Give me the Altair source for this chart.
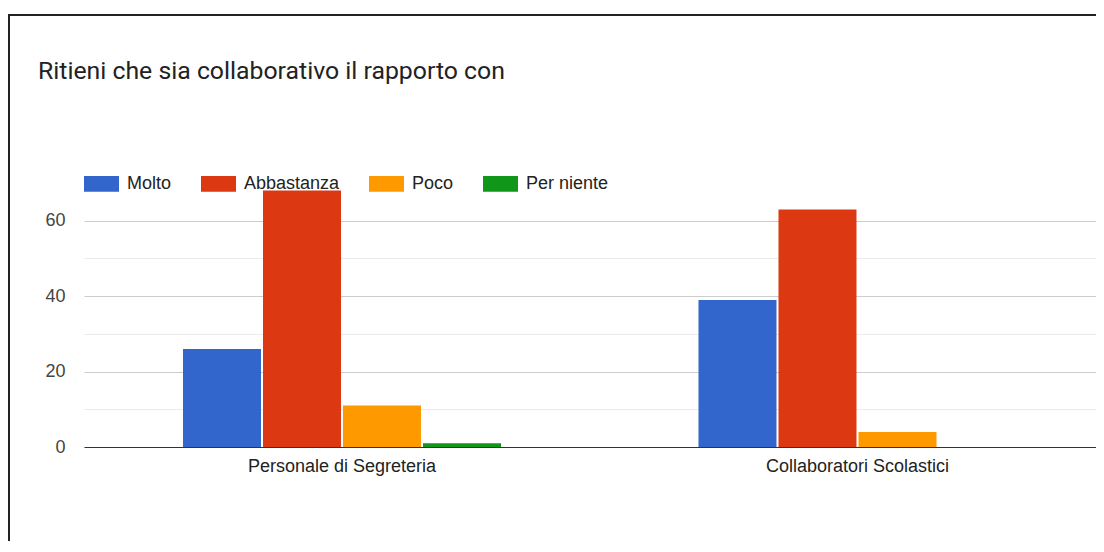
import altair as alt
import pandas as pd

# ---- data ----
categories = ["Personale di Segreteria", "Collaboratori Scolastici"]
series = ["Molto", "Abbastanza", "Poco", "Per niente"]
molto = [26, 39]
abbastanza = [68, 63]
poco = [11, 4]
per_niente = [1, 0]
colors = ["#3366cc", "#dc3912", "#ff9900", "#109618"]
title_text = "Ritieni che sia collaborativo il rapporto con"
y_ticks = [0, 10, 20, 30, 40, 50, 60]

rows = []
for s, vals in zip(series, [molto, abbastanza, poco, per_niente]):
    for c, v in zip(categories, vals):
        rows.append({"categoria": c, "risposta": s, "valore": v})
df = pd.DataFrame(rows)

W = 1012
H = 264
PAD_L, PAD_T, PAD_B = 76, 175, 94

bars = alt.Chart(df).mark_bar().encode(
    x=alt.X(
        "categoria:N",
        sort=categories,
        scale=alt.Scale(domain=categories, paddingInner=0.3831, paddingOuter=0.17315, align=0.5546),
        axis=alt.Axis(
            title=None, labelAngle=0, labelFont="Liberation Sans", labelFontSize=18,
            labelColor="#222222", labelPadding=10, ticks=False, domain=True,
            domainColor="#333333", domainWidth=1, grid=False, labelLimit=0,
        ),
    ),
    xOffset=alt.XOffset(
        "risposta:N", sort=series,
        scale=alt.Scale(domain=series, paddingInner=0.025, paddingOuter=0),
    ),
    y=alt.Y(
        "valore:Q",
        scale=alt.Scale(domain=[0, 70], nice=False, zero=True),
        axis=alt.Axis(
            title=None, values=y_ticks, labelOverlap=False,
            labelExpr="datum.value % 20 === 0 ? datum.label : ''",
            labelFont="Liberation Sans", labelFontSize=18, labelColor="#444444",
            labelPadding=19, ticks=False, domain=False,
            gridColor={"condition": {"test": "datum.value % 20 === 0", "value": "#cccccc"}, "value": "#ebebeb"},
            gridWidth=1,
        ),
    ),
    color=alt.Color(
        "risposta:N", sort=series,
        scale=alt.Scale(domain=series, range=colors),
        legend=alt.Legend(
            orient="none", legendX=0, legendY=-17, direction="horizontal", title=None,
            symbolType="M-1,-0.45H1V0.45H-1Z", symbolSize=1225, symbolStrokeWidth=0,
            symbolOpacity=1, labelFont="Liberation Sans", labelFontSize=18,
            labelColor="#222222", labelOffset=8, columnPadding=29, padding=0, labelLimit=0,
        ),
    ),
)

title_df = pd.DataFrame({"t": [title_text]})
title = alt.Chart(title_df).mark_text(
    align="left", baseline="middle", font="Roboto", fontSize=24.8, color="#222222"
).encode(text="t:N", x=alt.value(38 - 84), y=alt.value(72 - 183))

frame_df = pd.DataFrame({"f": [1]})
frame_top = alt.Chart(frame_df).mark_rule(color="#222222", strokeWidth=2).encode(
    x=alt.value(-PAD_L), x2=alt.value(W), y=alt.value(-168)
)
frame_left = alt.Chart(frame_df).mark_rule(color="#222222", strokeWidth=2).encode(
    x=alt.value(-PAD_L + 1), y=alt.value(-168), y2=alt.value(H + PAD_B)
)

chart = alt.layer(frame_top, frame_left, title, bars).properties(
    width=W, height=H,
    padding={"left": PAD_L, "top": PAD_T, "right": 0, "bottom": PAD_B},
    autosize=alt.AutoSizeParams(type="none"),
    background="white",
).configure_view(stroke=None)

chart.save("out.html", embed_options={"renderer": "svg", "actions": False})
